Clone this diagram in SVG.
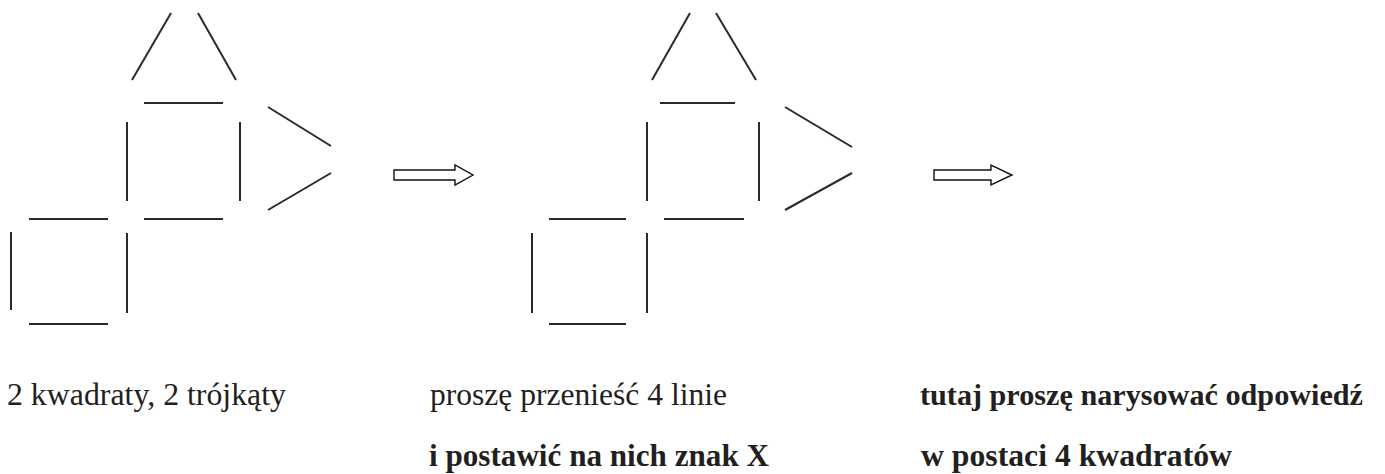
<svg xmlns="http://www.w3.org/2000/svg" width="1385" height="474" viewBox="0 0 1385 474">
<style>
.m{stroke:#2a2a2a;stroke-width:2;stroke-linecap:butt;fill:none}
.ar{fill:#fff;stroke:#111;stroke-width:1.4;stroke-linejoin:miter}
.t{font-family:"Liberation Serif","Times New Roman",serif;font-size:32px;fill:#231f20}
.b{font-weight:bold}
.s{font-size:30.2px}
</style>
<rect width="1385" height="474" fill="#fff"/>
<g id="figure1">
<line class="m" x1="171" y1="13" x2="132" y2="80"/>
<line class="m" x1="198" y1="13" x2="236" y2="80"/>
<line class="m" x1="144" y1="103" x2="223" y2="103"/>
<line class="m" x1="127" y1="122" x2="127" y2="201"/>
<line class="m" x1="240" y1="122" x2="240" y2="201"/>
<line class="m" x1="144" y1="219" x2="223" y2="219"/>
<line class="m" x1="268" y1="107" x2="331" y2="146"/>
<line class="m" x1="331" y1="173" x2="268" y2="210"/>
<line class="m" x1="29" y1="219" x2="108" y2="219"/>
<line class="m" x1="11" y1="232" x2="11" y2="310"/>
<line class="m" x1="127" y1="233" x2="127" y2="313"/>
<line class="m" x1="29" y1="324" x2="108" y2="324"/>
</g>
<g id="figure2">
<line class="m" x1="690" y1="13" x2="652" y2="80"/>
<line class="m" x1="716" y1="13" x2="756" y2="80"/>
<line class="m" x1="660" y1="103" x2="735" y2="103"/>
<line class="m" x1="647" y1="122" x2="647" y2="201"/>
<line class="m" x1="759" y1="122" x2="759" y2="201"/>
<line class="m" x1="664" y1="219" x2="744" y2="219"/>
<line class="m" x1="785" y1="107" x2="852" y2="147"/>
<line class="m" x1="852" y1="173" x2="785" y2="210"/>
<line class="m" x1="549" y1="219" x2="626" y2="219"/>
<line class="m" x1="532" y1="233" x2="532" y2="313"/>
<line class="m" x1="647" y1="233" x2="647" y2="313"/>
<line class="m" x1="549" y1="324" x2="626" y2="324"/>
</g>
<g id="connectors">
<polygon class="ar" points="394,170 455,170 455,165 473,175 455,185 455,180 394,180"/>
<polygon class="ar" points="934,170 991,170 991,165 1012,175 991,185 991,180 934,180"/>
</g>
<g id="label1">
<text class="t" x="7" y="405" textLength="279" lengthAdjust="spacingAndGlyphs">2 kwadraty, 2 trójkąty</text>
</g>
<g id="label2">
<text class="t" x="430" y="405" textLength="297" lengthAdjust="spacingAndGlyphs">proszę przenieść 4 linie</text>
<text class="t b" x="429" y="466" textLength="340" lengthAdjust="spacingAndGlyphs">i postawić na nich znak X</text>
</g>
<g id="label3">
<text class="t b s" x="920" y="405" textLength="443" lengthAdjust="spacingAndGlyphs">tutaj proszę narysować odpowiedź</text>
<text class="t b" x="921" y="466" textLength="311" lengthAdjust="spacingAndGlyphs">w postaci 4 kwadratów</text>
</g>
</svg>
